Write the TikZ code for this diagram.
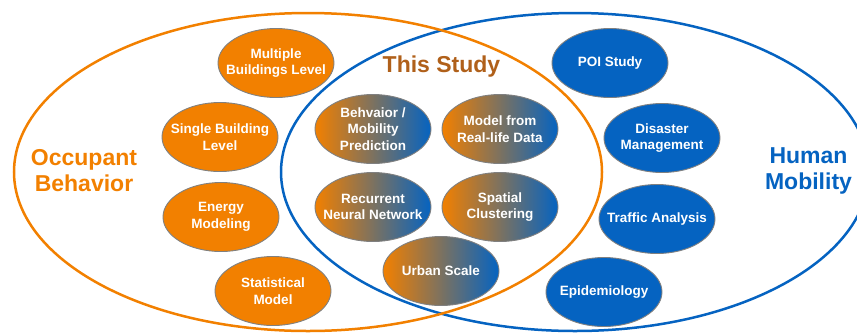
\documentclass[tikz,border=0pt]{standalone}
\usepackage{fontspec}
\setmainfont{Liberation Sans}
\usetikzlibrary{shapes.geometric}
\definecolor{occorange}{RGB}{242,128,0}
\definecolor{mobblue}{RGB}{5,99,193}
\definecolor{studybrown}{RGB}{176,96,26}
\begin{document}
\begin{tikzpicture}[x=1pt,y=-1pt,
  topic/.style={ellipse, draw=black!50, line width=0.9pt,
    minimum width=116pt, minimum height=69pt,
    inner xsep=-20pt, inner ysep=-2pt,
    align=center, text=white,
    font=\bfseries\fontsize{13.5}{16.5}\selectfont},
  occ/.style={topic, fill=occorange},
  mob/.style={topic, fill=mobblue},
  both/.style={topic, left color=occorange, right color=mobblue},
  area/.style={line width=2.5pt},
  heading/.style={font=\bfseries\fontsize{23}{26}\selectfont, align=center}]
\useasboundingbox (0,0) rectangle (857,333);
\clip (0,0) rectangle (857,333);

% the two research fields
\draw[area, mobblue] (575,172) ellipse [x radius=294pt, y radius=159pt];
\draw[area, occorange] (308,172) ellipse [x radius=294pt, y radius=159pt];

% field titles
\node[heading, text=occorange] (occtitle) at (84,171) {Occupant\\Behavior};
\node[heading, text=mobblue] (mobtitle) at (808.5,171) {Human\\Mobility};
\node[heading, text=studybrown, anchor=base] (studytitle) at (441.5,72) {This Study};

% occupant behavior topics
\node[occ] (multi) at (276,63) {Multiple\\Buildings Level};
\node[occ] (single) at (220,137) {Single Building\\Level};
\node[occ] (energy) at (221,217) {Energy\\Modeling};
\node[occ] (stat) at (273,291) {Statistical\\Model};

% shared topics
\node[both] (pred) at (373,129) {Behvaior /\\Mobility\\Prediction};
\node[both] (reallife) at (500,129) {Model from\\Real-life Data};
\node[both] (rnn) at (373,207) {Recurrent\\Neural Network};
\node[both] (cluster) at (500,207) {Spatial\\Clustering};
\node[both] (urban) at (441,271) {Urban Scale};

% human mobility topics
\node[mob] (poi) at (610,63) {POI Study};
\node[mob] (disaster) at (662,138) {Disaster\\Management};
\node[mob] (traffic) at (657,219) {Traffic Analysis};
\node[mob] (epi) at (604,292) {Epidemiology};
\end{tikzpicture}
\end{document}
